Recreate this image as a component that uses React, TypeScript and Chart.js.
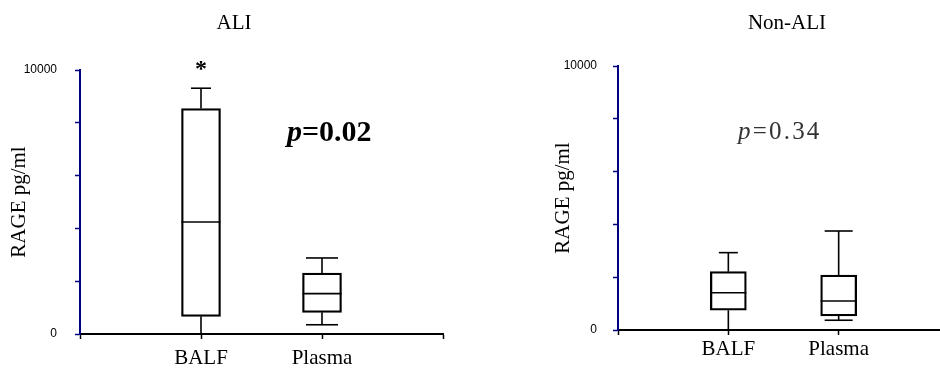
import React, { useEffect, useRef } from 'react';
import { Chart, registerables } from 'chart.js';

Chart.register(...registerables);

// ---- data ----
const categories = ['BALF', 'Plasma'];

const aliMin = [0, 350];
const aliQ1 = [670, 820];
const aliMedian = [4240, 1530];
const aliQ3 = [8540, 2310];
const aliMax = [9310, 2880];

const nonAliMin = [0, 370];
const nonAliQ1 = [750, 530];
const nonAliMedian = [1410, 1100];
const nonAliQ3 = [2210, 2080];
const nonAliMax = [2930, 3750];

const yMin = 0;
const yMax = 10000;
const yStep = 2000;
const yTickLabels = [0, 10000];

const aliTitle = 'ALI';
const nonAliTitle = 'Non-ALI';
const yAxisTitle = 'RAGE pg/ml';
const aliP = '0.02';
const nonAliP = '0.34';
const aliMarkers = ['*', ''];

const SERIF = "'Liberation Serif', 'Times New Roman', serif";
const SANS = "'Liberation Sans', Arial, sans-serif";
const NAVY = '#000080';

type Stats = { min: number[]; q1: number[]; median: number[]; q3: number[]; max: number[] };

type Panel = {
  stats: Stats;
  title: string;
  pValue: string;
  markers: string[];
  canvasWidth: number;
  padTop: number;
  padRight: number;
  yAxisWidth: number;
  xAxisHeight: number;
  yTitlePad: number;
  yTickPad: number;
  xTickPad: number;
  boxWidth: number;
  capWidths: number[];
  titleX: number;
  titleBaseline: number;
  pX: number;
  pBaseline: number;
  pBold: boolean;
  pSize: number;
  pSpacing: number;
  pColor: string;
};

function boxPlugin(panel: Panel) {
  return {
    id: 'boxWhiskers',
    afterDatasetsDraw(chart: any) {
      const { ctx, scales } = chart;
      const x = scales.x;
      const y = scales.y;
      const s = panel.stats;
      ctx.save();
      ctx.strokeStyle = '#000';
      ctx.lineWidth = 1.6;
      const line = (x1: number, y1: number, x2: number, y2: number) => {
        ctx.beginPath();
        ctx.moveTo(x1, y1);
        ctx.lineTo(x2, y2);
        ctx.stroke();
      };
      categories.forEach((_, i) => {
        const cx = x.getPixelForValue(i + 1);
        const half = panel.boxWidth / 2;
        const cap = panel.capWidths[i] / 2;
        const pm = y.getPixelForValue(s.median[i]);
        line(cx - half, pm, cx + half, pm);
        const pq3 = y.getPixelForValue(s.q3[i]);
        const pmax = y.getPixelForValue(s.max[i]);
        line(cx, pq3, cx, pmax);
        line(cx - cap, pmax, cx + cap, pmax);
        const pq1 = y.getPixelForValue(s.q1[i]);
        const pmin = y.getPixelForValue(s.min[i]);
        line(cx, pq1, cx, pmin);
        line(cx - cap, pmin, cx + cap, pmin);
      });
      ctx.restore();
    },
  };
}

function textPlugin(panel: Panel) {
  return {
    id: 'panelText',
    afterDraw(chart: any) {
      const { ctx, scales } = chart;
      const x = scales.x;
      const y = scales.y;
      ctx.save();
      // panel title
      ctx.fillStyle = '#000';
      ctx.font = `21px ${SERIF}`;
      ctx.textAlign = 'center';
      ctx.textBaseline = 'alphabetic';
      ctx.fillText(panel.title, panel.titleX, panel.titleBaseline);
      // significance markers
      ctx.font = `bold 24px ${SERIF}`;
      panel.markers.forEach((m, i) => {
        if (!m) return;
        ctx.fillText(m, x.getPixelForValue(i + 1), y.getPixelForValue(yMax) + 6);
      });
      // p value
      ctx.textAlign = 'left';
      ctx.fillStyle = panel.pColor;
      const w = panel.pBold ? 'bold ' : '';
      (ctx as any).letterSpacing = `${panel.pSpacing}px`;
      ctx.font = `italic ${w}${panel.pSize}px ${SERIF}`;
      ctx.fillText('p', panel.pX, panel.pBaseline);
      const pw = ctx.measureText('p').width;
      ctx.font = `${w}${panel.pSize}px ${SERIF}`;
      ctx.fillText('=' + panel.pValue, panel.pX + pw, panel.pBaseline);
      (ctx as any).letterSpacing = '0px';
      ctx.restore();
    },
  };
}

function makeConfig(panel: Panel): any {
  const s = panel.stats;
  const labels = ['', ...categories, ''];
  const boxes: any[] = [null, ...categories.map((_, i) => [s.q1[i], s.q3[i]]), null];
  return {
    type: 'bar',
    data: {
      labels,
      datasets: [
        {
          data: boxes,
          backgroundColor: 'rgba(255,255,255,0)',
          borderColor: '#000',
          borderWidth: 1.6,
          borderSkipped: false,
          barThickness: panel.boxWidth,
        },
      ],
    },
    options: {
      responsive: false,
      animation: false,
      events: [],
      layout: { padding: { left: 0, top: panel.padTop, right: panel.padRight, bottom: 0 } },
      plugins: {
        legend: { display: false },
        tooltip: { enabled: false },
        title: { display: false },
      },
      scales: {
        x: {
          offset: false,
          grid: {
            offset: false,
            drawOnChartArea: false,
            drawTicks: true,
            tickLength: 5,
            tickColor: '#000',
            tickWidth: 1.5,
          },
          border: { color: '#000', width: 2 },
          ticks: {
            color: '#000',
            font: { family: SERIF, size: 21 },
            padding: panel.xTickPad,
            autoSkip: false,
            maxRotation: 0,
            minRotation: 0,
          },
          afterFit: (scale: any) => {
            scale.height = panel.xAxisHeight;
          },
        },
        y: {
          min: yMin,
          max: yMax,
          grid: {
            drawOnChartArea: false,
            drawTicks: true,
            tickLength: 5,
            tickColor: NAVY,
            tickWidth: 1.5,
          },
          border: { color: NAVY, width: 2 },
          ticks: {
            stepSize: yStep,
            color: '#000',
            font: { family: SANS, size: 12 },
            padding: panel.yTickPad,
            callback: (v: number) => (yTickLabels.includes(v) ? String(v) : ''),
          },
          title: {
            display: true,
            text: yAxisTitle,
            color: '#000',
            font: { family: SERIF, size: 21 },
            padding: { top: panel.yTitlePad, bottom: 0 },
          },
          afterFit: (scale: any) => {
            scale.width = panel.yAxisWidth;
          },
        },
      },
    },
    plugins: [boxPlugin(panel), textPlugin(panel)],
  };
}

const aliPanel: Panel = {
  stats: { min: aliMin, q1: aliQ1, median: aliMedian, q3: aliQ3, max: aliMax },
  title: aliTitle,
  pValue: aliP,
  markers: aliMarkers,
  canvasWidth: 470,
  padTop: 70,
  padRight: 27,
  yAxisWidth: 80,
  xAxisHeight: 35,
  yTitlePad: 7,
  yTickPad: 18,
  xTickPad: 7,
  boxWidth: 39,
  capWidths: [20, 32],
  titleX: 234,
  titleBaseline: 29,
  pX: 287,
  pBaseline: 141,
  pBold: true,
  pSize: 30,
  pSpacing: 0,
  pColor: '#000',
};

const nonAliPanel: Panel = {
  stats: { min: nonAliMin, q1: nonAliQ1, median: nonAliMedian, q3: nonAliQ3, max: nonAliMax },
  title: nonAliTitle,
  pValue: nonAliP,
  markers: ['', ''],
  canvasWidth: 481,
  padTop: 66,
  padRight: 0,
  yAxisWidth: 148,
  xAxisHeight: 39,
  yTitlePad: 81,
  yTickPad: 16,
  xTickPad: 2,
  boxWidth: 36,
  capWidths: [19, 28],
  titleX: 317,
  titleBaseline: 29,
  pX: 268,
  pBaseline: 139,
  pBold: false,
  pSize: 25,
  pSpacing: 2.2,
  pColor: '#333',
};

function PanelChart({ panel, left }: { panel: Panel; left: number }) {
  const ref = useRef<HTMLCanvasElement | null>(null);
  useEffect(() => {
    if (!ref.current) return;
    const chart = new Chart(ref.current, makeConfig(panel));
    return () => chart.destroy();
  }, [panel]);
  return (
    <canvas
      ref={ref}
      width={panel.canvasWidth}
      height={369}
      style={{ position: 'absolute', left, top: 0, width: panel.canvasWidth, height: 369 }}
    />
  );
}

export default function App() {
  return (
    <div
      style={{
        position: 'absolute',
        left: 0,
        top: 0,
        width: 940,
        height: 369,
        overflow: 'hidden',
        background: '#fff',
      }}
    >
      <PanelChart panel={aliPanel} left={0} />
      <PanelChart panel={nonAliPanel} left={470} />
    </div>
  );
}
